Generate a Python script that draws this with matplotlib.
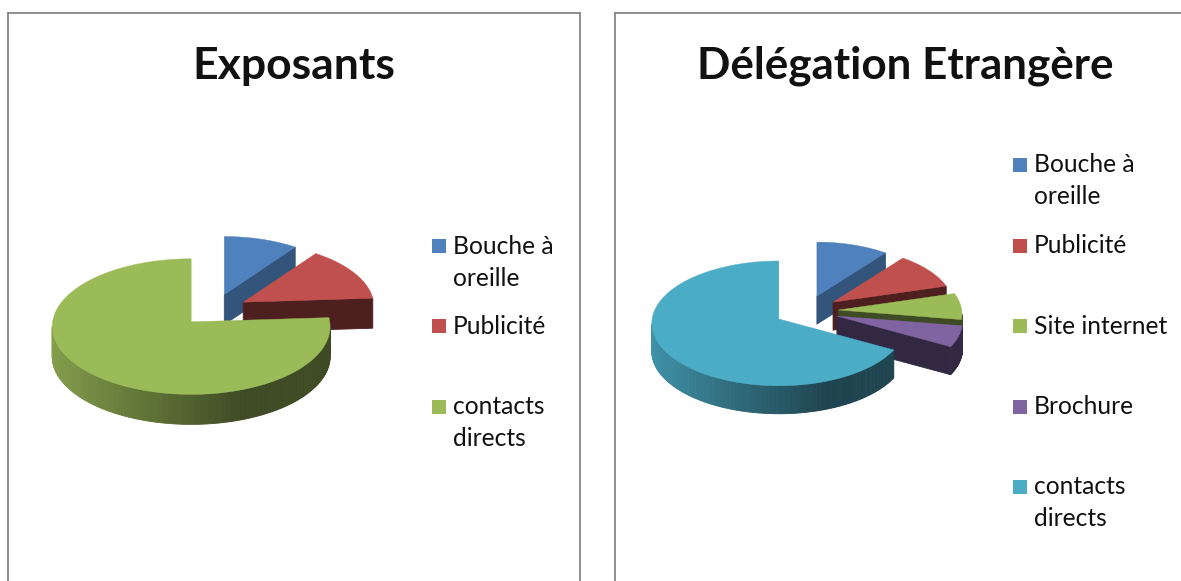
import numpy as np
import matplotlib.pyplot as plt
from matplotlib.patches import Rectangle

plt.rcParams['font.family'] = ['Lato', 'DejaVu Sans']

W, H = 1181, 581

left_title = "Exposants"
left_labels = ["Bouche à\noreille", "Publicité", "contacts\ndirects"]
left_values = [10, 14, 76]
left_colors = ["#4f81bd", "#c0504d", "#9bbb59"]

right_title = "Délégation Etrangère"
right_labels = ["Bouche à\noreille", "Publicité", "Site internet", "Brochure", "contacts\ndirects"]
right_values = [10.5, 10, 7, 5.5, 67]
right_colors = ["#4f81bd", "#c0504d", "#9bbb59", "#8064a2", "#4bacc6"]


def shade(color, f):
    return tuple(c * f for c in plt.matplotlib.colors.to_rgb(color))


def project(u, v, rx, ry):
    # slight perspective, far side of the disc looks flatter
    s = 1 / (1 + 0.07 * v)
    return rx * u * s, -ry * v * s


def draw_slice(ax, t0, t1, color, cx, cy, rx, ry, depth, explode):
    mid = (t0 + t1) / 2
    ox = cx + explode * rx * np.sin(mid)
    oy = cy - explode * ry * np.cos(mid)

    # slices pushed to the back come out a bit smaller
    size = 1 / (1 + 0.05 * np.cos(mid))

    ts = np.linspace(t0, t1, max(int(np.degrees(t1 - t0)), 2))
    us = np.r_[0, np.sin(ts)]
    vs = np.r_[0, np.cos(ts)]
    px, py = project(us, vs, rx * size, ry * size)
    px, py = px + ox, py + oy

    n = len(px)
    for i in range(n):
        j = (i + 1) % n
        # clockwise on screen, so the outward side of an edge with dx > 0 is down
        if px[j] - px[i] >= 0:
            continue
        qx = [px[i], px[j], px[j], px[i]]
        qy = [py[i], py[j], py[j] + depth, py[i] + depth]
        if i == 0 or j == 0:
            t = t1 if j == 0 else t0
            f = 0.65 if t < np.radians(60) else 0.4
        else:
            f = np.interp(us[i], [-1, 0.35, 1], [0.85, 0.4, 0.4])
        ax.fill(qx, qy, color=shade(color, f), lw=0.6, zorder=2)

    ax.fill(px, py, color=color, lw=0.3, zorder=2)


def draw_pie(ax, values, colors, cx, cy, rx, ry, depth, explode):
    edges = np.radians(np.r_[0, np.cumsum(values)] / sum(values) * 360)
    for k, color in enumerate(colors):
        draw_slice(ax, edges[k], edges[k + 1], color, cx, cy, rx, ry, depth, explode)


def draw_legend(ax, labels, colors, x, ys):
    for label, color, y in zip(labels, colors, ys):
        ax.add_patch(Rectangle((x, y - 7), 14, 14, color=color, lw=0, zorder=3))
        ax.text(x + 21, y, label.split("\n")[0], fontsize=17.7, color="#111111",
                va="center", ha="left", zorder=3)
        if "\n" in label:
            ax.text(x + 21, y + 32, label.split("\n")[1], fontsize=17.7, color="#111111",
                    va="center", ha="left", zorder=3)


fig = plt.figure(figsize=(W / 100, H / 100), dpi=100)


def make_panel(x0, x1):
    ax = fig.add_axes([x0 / W, 0, (x1 - x0) / W, (H - 12.5) / H])
    ax.set_xlim(x0, x1)
    ax.set_ylim(H, 12.5)
    ax.set_xticks([])
    ax.set_yticks([])
    ax.spines["bottom"].set_visible(False)
    for s in ["left", "top", "right"]:
        ax.spines[s].set_color("#868686")
        ax.spines[s].set_linewidth(1.3)
    return ax


ax1 = make_panel(8, 580)
draw_pie(ax1, left_values, left_colors, 214, 310, 133.5, 65, 30, 0.25)
draw_legend(ax1, left_labels, left_colors, 432, [246, 326, 407])
ax1.text(294, 66, left_title, fontsize=32, fontweight="bold", color="#111111",
         ha="center", va="center")

ax2 = make_panel(615, 1195)
draw_pie(ax2, right_values, right_colors, 806.5, 311, 123.5, 60.5, 28, 0.26)
draw_legend(ax2, right_labels, right_colors, 1013, [165, 245.5, 326, 407, 487])
ax2.text(905, 66, right_title, fontsize=31.7, fontweight="bold", color="#111111",
         ha="center", va="center")

fig.savefig("out.png", dpi=100)
